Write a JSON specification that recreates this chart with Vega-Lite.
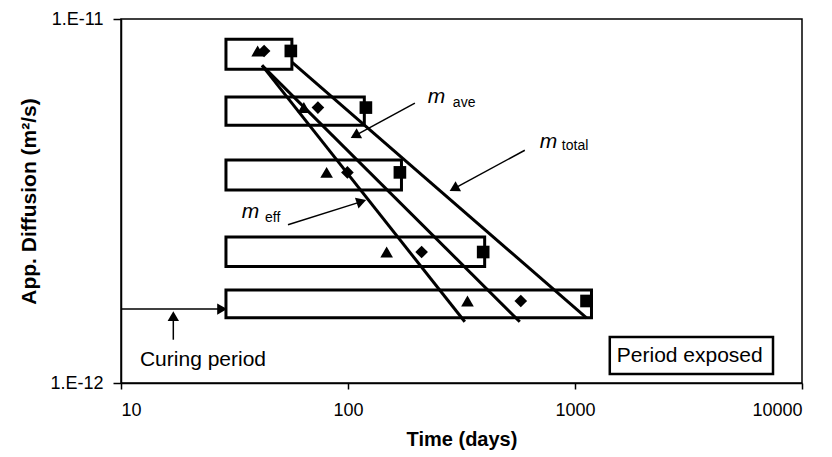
{
  "$schema": "https://vega.github.io/schema/vega-lite/v6.json",
  "width": 681,
  "height": 364,
  "autosize": {"type": "none"},
  "padding": {"left": 121, "top": 19, "right": 30, "bottom": 74},
  "background": "white",
  "config": {
    "view": {"stroke": "black", "strokeWidth": 1.5},
    "axis": {
      "grid": false,
      "domainColor": "black",
      "domainWidth": 1.5,
      "tickColor": "black",
      "tickWidth": 1.5,
      "labelColor": "black",
      "titleColor": "black",
      "labelFont": "Liberation Sans",
      "titleFont": "Liberation Sans",
      "labelFontSize": 18,
      "titleFontWeight": "bold"
    },
    "text": {"font": "Liberation Sans"}
  },
  "datasets": {
    "boxes": [
      {"x": 29, "x2": 56.6, "y": 8.80e-12, "y2": 7.28e-12},
      {"x": 29, "x2": 118, "y": 6.11e-12, "y2": 5.11e-12},
      {"x": 29, "x2": 172, "y": 4.10e-12, "y2": 3.39e-12},
      {"x": 29, "x2": 400, "y": 2.52e-12, "y2": 2.09e-12},
      {"x": 29, "x2": 1182, "y": 1.80e-12, "y2": 1.51e-12}
    ],
    "legendbox": [
      {"x": 1423, "x2": 7452, "y": 1.337e-12, "y2": 1.059e-12}
    ],
    "lines": [
      {"id": "eff", "x": 41.8, "y": 7.46e-12},
      {"id": "eff", "x": 327, "y": 1.473e-12},
      {"id": "ave", "x": 41.8, "y": 7.46e-12},
      {"id": "ave", "x": 571, "y": 1.473e-12},
      {"id": "total", "x": 56.6, "y": 7.61e-12},
      {"id": "total", "x": 1127, "y": 1.508e-12}
    ],
    "points": [
      {"s": "tri", "x": 40, "y": 8.17e-12},
      {"s": "dia", "x": 42.7, "y": 8.17e-12},
      {"s": "sq", "x": 56, "y": 8.17e-12},
      {"s": "tri", "x": 63.9, "y": 5.71e-12},
      {"s": "dia", "x": 73.7, "y": 5.71e-12},
      {"s": "sq", "x": 119.9, "y": 5.71e-12},
      {"s": "tri", "x": 80.5, "y": 3.79e-12},
      {"s": "dia", "x": 99.4, "y": 3.79e-12},
      {"s": "sq", "x": 169.3, "y": 3.79e-12},
      {"s": "tri", "x": 148, "y": 2.29e-12},
      {"s": "dia", "x": 211, "y": 2.29e-12},
      {"s": "sq", "x": 394, "y": 2.29e-12},
      {"s": "tri", "x": 336, "y": 1.68e-12},
      {"s": "dia", "x": 577, "y": 1.68e-12},
      {"s": "sq", "x": 1124, "y": 1.68e-12}
    ],
    "shafts": [
      {"x": 197.1, "y": 5.87e-12, "x2": 107.4, "y2": 4.78e-12},
      {"x": 601, "y": 4.36e-12, "x2": 293, "y2": 3.42e-12},
      {"x": 54.4, "y": 2.72e-12, "x2": 114.6, "y2": 3.15e-12},
      {"x": 10, "y": 1.596e-12, "x2": 27.9, "y2": 1.596e-12},
      {"x": 17, "y": 1.315e-12, "x2": 17, "y2": 1.526e-12}
    ],
    "heads": [
      {"x": 107.4, "y": 4.78e-12, "angle": 241.3},
      {"x": 293, "y": 3.42e-12, "angle": 241.3},
      {"x": 114.6, "y": 3.15e-12, "angle": 72.2},
      {"x": 27.9, "y": 1.596e-12, "angle": 90},
      {"x": 17, "y": 1.526e-12, "angle": 0}
    ],
    "mlabels": [
      {"x": 224.8, "y": 5.87e-12, "t": "m"},
      {"x": 699.8, "y": 4.42e-12, "t": "m"},
      {"x": 34.0, "y": 2.84e-12, "t": "m"}
    ],
    "subs": [
      {"x": 289.7, "y": 5.73e-12, "t": "ave"},
      {"x": 874.8, "y": 4.36e-12, "t": "total"},
      {"x": 43.1, "y": 2.77e-12, "t": "eff"}
    ],
    "notes": [
      {"x": 22.97, "y": 1.114e-12, "t": "Curing period"},
      {"x": 3203, "y": 1.141e-12, "t": "Period exposed"}
    ]
  },
  "encoding": {
    "x": {
      "field": "x",
      "type": "quantitative",
      "scale": {"type": "log", "domain": [10, 10000]},
      "axis": {
        "values": [10, 100, 1000, 10000],
        "format": "d",
        "title": "Time (days)",
        "titleFontSize": 20,
        "tickSize": 6,
        "labelPadding": 12,
        "titlePadding": 10
      }
    },
    "y": {
      "field": "y",
      "type": "quantitative",
      "scale": {"type": "log", "domain": [1e-12, 1e-11]},
      "axis": {
        "values": [1e-12, 1e-11],
        "labelExpr": "datum.value < 5e-12 ? '1.E-12' : '1.E-11'",
        "title": "App. Diffusion (m²/s)",
        "titleFontSize": 21,
        "tickSize": 8,
        "labelPadding": 10,
        "titlePadding": 10
      }
    }
  },
  "layer": [
    {
      "data": {"name": "boxes"},
      "mark": {"type": "rect", "filled": false, "stroke": "black", "strokeWidth": 3},
      "encoding": {
        "x2": {"field": "x2"},
        "y2": {"field": "y2"}
      }
    },
    {
      "data": {"name": "legendbox"},
      "mark": {"type": "rect", "filled": false, "stroke": "black", "strokeWidth": 2.5},
      "encoding": {
        "x2": {"field": "x2"},
        "y2": {"field": "y2"}
      }
    },
    {
      "data": {"name": "lines"},
      "mark": {"type": "line", "color": "black", "strokeWidth": 3},
      "encoding": {"detail": {"field": "id"}}
    },
    {
      "data": {"name": "points"},
      "mark": {"type": "point", "filled": true, "color": "black", "opacity": 1, "size": 160},
      "encoding": {
        "shape": {
          "field": "s",
          "type": "nominal",
          "scale": {"domain": ["tri", "dia", "sq"], "range": ["triangle-up", "diamond", "square"]},
          "legend": null
        }
      }
    },
    {
      "data": {"name": "shafts"},
      "mark": {"type": "rule", "color": "black", "strokeWidth": 1.5},
      "encoding": {
        "x2": {"field": "x2"},
        "y2": {"field": "y2"}
      }
    },
    {
      "data": {"name": "heads"},
      "mark": {"type": "point", "shape": "triangle-up", "filled": true, "color": "black", "opacity": 1, "size": 130},
      "encoding": {
        "angle": {"field": "angle", "type": "quantitative", "scale": null}
      }
    },
    {
      "data": {"name": "mlabels"},
      "mark": {"type": "text", "fontStyle": "italic", "fontSize": 21, "align": "left", "baseline": "alphabetic", "color": "black"},
      "encoding": {"text": {"field": "t"}}
    },
    {
      "data": {"name": "subs"},
      "mark": {"type": "text", "fontSize": 14, "align": "left", "baseline": "alphabetic", "color": "black"},
      "encoding": {"text": {"field": "t"}}
    },
    {
      "data": {"name": "notes"},
      "mark": {"type": "text", "fontSize": 21, "align": "center", "baseline": "alphabetic", "color": "black"},
      "encoding": {"text": {"field": "t"}}
    }
  ]
}
